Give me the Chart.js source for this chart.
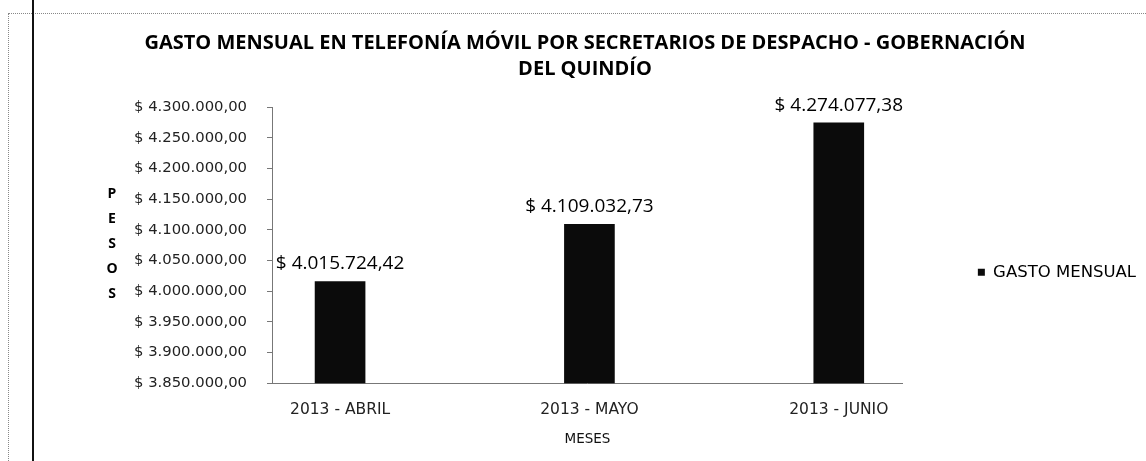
<!DOCTYPE html>
<html>
<head>
<meta charset="utf-8">
<script src="https://cdn.jsdelivr.net/npm/chart.js@4.4.1/dist/chart.umd.min.js"></script>
<style>
  html, body { margin: 0; padding: 0; background: #fff; }
  #wrap { position: relative; width: 1146px; height: 461px; overflow: hidden; }
  #frame { position: absolute; left: 8px; top: 13px; right: -2px; bottom: -2px;
           border-left: 1px dotted #888; border-top: 1px dotted #888; }
  #scanline { position: absolute; left: 32px; top: 0; width: 2px; height: 461px; background: #111; }
  canvas { position: absolute; left: 0; top: 0; }
</style>
</head>
<body>
<div id="wrap">
  <div id="frame"></div>
  <div id="scanline"></div>
  <canvas id="canvas_gasto" width="1146" height="461"></canvas>
</div>
<script>
var meses = ['2013 - ABRIL', '2013 - MAYO', '2013 - JUNIO'];
var gasto = [4015724.42, 4109032.73, 4274077.38];
var y_ticks_min = 3850000;
var y_ticks_max = 4300000;
var y_step = 50000;
var titulo = ['GASTO MENSUAL EN TELEFONÍA MÓVIL POR SECRETARIOS DE DESPACHO - GOBERNACIÓN', 'DEL QUINDÍO'];
var eje_y = 'PESOS';

function pesos(v) {
    var parts = v.toFixed(2).split('.');
    var ent = parts[0].replace(/\B(?=(\d{3})+(?!\d))/g, '.');
    return '$ ' + ent + ',' + parts[1];
}

// value labels above each bar + stacked y axis title
const extras = {
    id: 'extras',
    afterDatasetsDraw(chart) {
        const ctx = chart.ctx;
        ctx.save();
        ctx.fillStyle = '#000';
        ctx.font = '19px "Open Sans"';
        ctx.textAlign = 'center';
        ctx.textBaseline = 'bottom';
        chart.getDatasetMeta(0).data.forEach((bar, i) => {
            ctx.fillText(pesos(gasto[i]), bar.x, bar.y - 8);
        });
        ctx.font = 'bold 14px "Open Sans"';
        ctx.textBaseline = 'middle';
        eje_y.split('').forEach((ch, i) => {
            ctx.fillText(ch, 112, 194 + i * 25);
        });
        ctx.restore();
    }
};

const ctx = document.getElementById('canvas_gasto').getContext('2d');
var chart1 = new Chart(ctx, {
    type: 'bar',
    data: {
        datasets: [{
            label: 'GASTO MENSUAL',
            data: gasto.map((v, i) => ({x: i, y: v})),
            backgroundColor: '#0b0b0b',
            borderWidth: 0,
            barThickness: 50
        }]
    },
    options: {
        responsive: false,
        animation: false,
        layout: { padding: { left: 24, right: 0, top: 30, bottom: 13 } },
        plugins: {
            title: {
                display: true,
                text: titulo,
                color: '#000',
                font: { family: '"Open Sans"', size: 20, weight: 'bold', lineHeight: 1.3 },
                padding: { top: 0, bottom: 25 }
            },
            legend: {
                position: 'right',
                fullSize: false,
                title: { display: true, text: '', padding: 20 },
                labels: {
                    padding: 75,
                    boxWidth: 7,
                    boxHeight: 7,
                    color: '#000',
                    font: { family: '"DejaVu Sans"', size: 16.5 }
                }
            },
            tooltip: { enabled: false }
        },
        scales: {
            x: {
                type: 'linear',
                offset: false,
                min: -0.273,
                max: 2.257,
                grid: { display: false, drawTicks: false },
                border: { display: true, color: '#777', dash: [2, 2] },
                ticks: {
                    stepSize: 1,
                    includeBounds: false,
                    padding: 19,
                    color: '#222',
                    font: { family: '"DejaVu Sans"', size: 15.5, lineHeight: 1 },
                    callback: v => meses[v] || ''
                },
                title: {
                    display: true,
                    text: 'MESES',
                    color: '#111',
                    font: { family: '"DejaVu Sans"', size: 13.5 },
                    padding: { top: -5, bottom: 0 }
                }
            },
            y: {
                min: y_ticks_min,
                max: y_ticks_max,
                afterFit: scale => { scale.width = 248; },
                grid: { drawOnChartArea: false, drawTicks: true, tickLength: 5, color: '#777' },
                border: { display: true, color: '#777', dash: [2, 2] },
                ticks: {
                    stepSize: y_step,
                    padding: 20,
                    color: '#222',
                    font: { family: '"DejaVu Sans"', size: 14.8 },
                    callback: v => pesos(v)
                }
            }
        }
    },
    plugins: [extras]
});
</script>
</body>
</html>
